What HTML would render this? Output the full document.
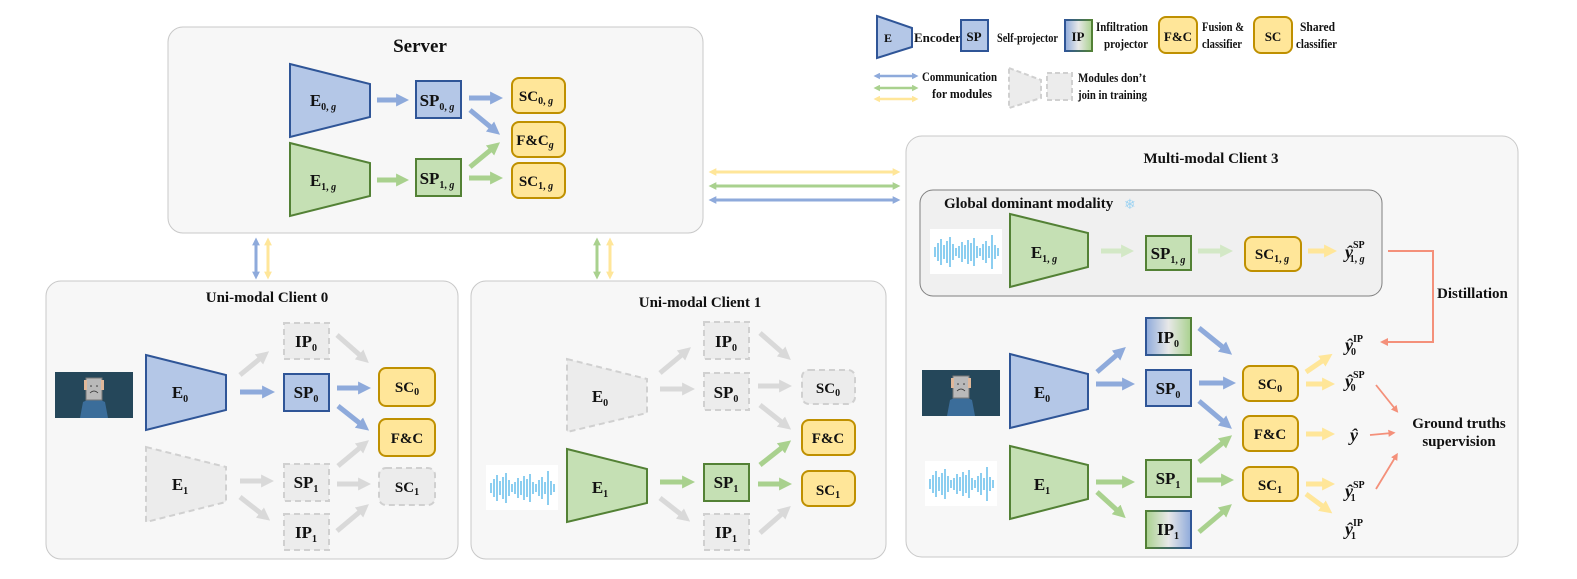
<!DOCTYPE html>
<html><head><meta charset="utf-8"><style>
html,body{margin:0;padding:0;background:#fff}
svg{display:block}
text{font-family:"Liberation Serif",serif;font-weight:bold;fill:#111}
.n{font-size:17px;text-anchor:middle}
.s{font-size:15px;text-anchor:middle}
.t{font-size:15px;text-anchor:middle}
.l{font-size:13px}
.sub{font-size:10px}
</style></head><body>
<svg width="1577" height="579" viewBox="0 0 1577 579" xmlns="http://www.w3.org/2000/svg">
<defs>
<marker id="mb" viewBox="0 0 10 10" refX="3" refY="5" markerWidth="2.6" markerHeight="2.6" orient="auto-start-reverse"><path d="M0,0L10,5L0,10z" fill="#8eaadb"/></marker>
<marker id="mg" viewBox="0 0 10 10" refX="3" refY="5" markerWidth="2.6" markerHeight="2.6" orient="auto-start-reverse"><path d="M0,0L10,5L0,10z" fill="#a9d18e"/></marker>
<marker id="mpg" viewBox="0 0 10 10" refX="3" refY="5" markerWidth="2.6" markerHeight="2.6" orient="auto-start-reverse"><path d="M0,0L10,5L0,10z" fill="#d3e8c6"/></marker>
<marker id="my" viewBox="0 0 10 10" refX="3" refY="5" markerWidth="2.6" markerHeight="2.6" orient="auto-start-reverse"><path d="M0,0L10,5L0,10z" fill="#ffe699"/></marker>
<marker id="mx" viewBox="0 0 10 10" refX="3" refY="5" markerWidth="2.6" markerHeight="2.6" orient="auto-start-reverse"><path d="M0,0L10,5L0,10z" fill="#d9d9d9"/></marker>
<marker id="mr" viewBox="0 0 10 10" refX="5" refY="5" markerWidth="4" markerHeight="4" orient="auto"><path d="M0,0L10,5L0,10z" fill="#f4907a"/></marker>
<linearGradient id="gbg" x1="0" x2="1"><stop offset="0" stop-color="#8eaadb"/><stop offset="0.5" stop-color="#e8e8e8"/><stop offset="1" stop-color="#a9d18e"/></linearGradient>
<linearGradient id="ggb" x1="0" x2="1"><stop offset="0" stop-color="#a9d18e"/><stop offset="0.5" stop-color="#e8e8e8"/><stop offset="1" stop-color="#8eaadb"/></linearGradient>
<linearGradient id="sbg" x1="0" x2="1"><stop offset="0" stop-color="#2f5597"/><stop offset="1" stop-color="#538135"/></linearGradient>
<linearGradient id="sgb" x1="0" x2="1"><stop offset="0" stop-color="#538135"/><stop offset="1" stop-color="#2f5597"/></linearGradient>
<g id="wave">
<rect x="0" y="0" width="72" height="45" fill="#fff"/>
<g stroke="#4fb3e8" stroke-width="1.3">
<path d="M5,18v10M8,14v18M11,10v26M14,16v14M17,12v22M20,8v30M23,15v16M26,19v8M29,17v12M32,13v20M35,16v14M38,11v24M41,14v18M44,9v28M47,17v12M50,19v8M53,15v16M56,12v22M59,17v12M62,6v34M65,16v14M68,19v8"/>
</g></g>
<g id="face">
<rect x="0" y="0" width="78" height="46" fill="#1f3b4d"/>
<rect x="0" y="0" width="78" height="46" fill="#2c5468" opacity="0.5"/>
<path d="M25,46 L28,30 Q39,24 50,30 L53,46z" fill="#3b6d9a"/>
<rect x="31" y="6" width="16" height="22" fill="#b9b9b9" stroke="#777" stroke-width="1"/>
<circle cx="36" cy="14" r="0.8" fill="#333"/><circle cx="42" cy="14" r="0.8" fill="#333"/>
<path d="M35,21 Q39,17 43,21" stroke="#333" fill="none" stroke-width="0.8"/>
<rect x="29" y="8" width="3" height="10" fill="#e0b89a"/><rect x="46" y="8" width="3" height="10" fill="#e0b89a"/>
</g>
</defs>

<!-- Server panel -->
<rect x="168" y="27" width="535" height="206" rx="15" fill="#f7f7f7" stroke="#c8c8c8"/>
<text x="420" y="52" style="font-size:19px;text-anchor:middle">Server</text>
<polygon points="290,64 370,84 370,117 290,137" fill="#b4c7e7" stroke="#2f5597" stroke-width="2"/>
<text x="323" y="106" class="n">E<tspan class="sub" dy="4">0, <tspan font-style="italic">g</tspan></tspan></text>
<polygon points="290,143 370,163 370,196 290,216" fill="#c5e0b4" stroke="#538135" stroke-width="2"/>
<text x="323" y="186" class="n">E<tspan class="sub" dy="4">1, <tspan font-style="italic">g</tspan></tspan></text>
<rect x="416" y="81" width="45" height="37" fill="#b4c7e7" stroke="#2f5597" stroke-width="2"/>
<text x="437" y="106" class="n">SP<tspan class="sub" dy="4">0, <tspan font-style="italic">g</tspan></tspan></text>
<rect x="416" y="159" width="45" height="37" fill="#c5e0b4" stroke="#538135" stroke-width="2"/>
<text x="437" y="184" class="n">SP<tspan class="sub" dy="4">1, <tspan font-style="italic">g</tspan></tspan></text>
<rect x="512" y="78" width="53" height="35" rx="7" fill="#ffe699" stroke="#bf9000" stroke-width="2"/>
<text x="536" y="101" class="s">SC<tspan class="sub" dy="3">0, <tspan font-style="italic">g</tspan></tspan></text>
<rect x="512" y="122" width="53" height="35" rx="7" fill="#ffe699" stroke="#bf9000" stroke-width="2"/>
<text x="535" y="145" class="s">F&amp;C<tspan class="sub" dy="3" font-style="italic">g</tspan></text>
<rect x="512" y="163" width="53" height="35" rx="7" fill="#ffe699" stroke="#bf9000" stroke-width="2"/>
<text x="536" y="186" class="s">SC<tspan class="sub" dy="3">1, <tspan font-style="italic">g</tspan></tspan></text>
<g stroke-width="5" fill="none">
<line x1="377" y1="100" x2="400" y2="100" stroke="#8eaadb" marker-end="url(#mb)"/>
<line x1="469" y1="98" x2="494" y2="98" stroke="#8eaadb" marker-end="url(#mb)"/>
<line x1="470" y1="110" x2="493" y2="129" stroke="#8eaadb" marker-end="url(#mb)"/>
<line x1="377" y1="180" x2="400" y2="180" stroke="#a9d18e" marker-end="url(#mg)"/>
<line x1="470" y1="167" x2="493" y2="148" stroke="#a9d18e" marker-end="url(#mg)"/>
<line x1="469" y1="178" x2="494" y2="178" stroke="#a9d18e" marker-end="url(#mg)"/>
</g>

<!-- communication arrows -->
<g stroke-width="3">
<line x1="256" y1="243" x2="256" y2="274" stroke="#8eaadb" marker-start="url(#mb)" marker-end="url(#mb)"/>
<line x1="268" y1="243" x2="268" y2="274" stroke="#ffe699" marker-start="url(#my)" marker-end="url(#my)"/>
<line x1="597" y1="243" x2="597" y2="274" stroke="#a9d18e" marker-start="url(#mg)" marker-end="url(#mg)"/>
<line x1="610" y1="243" x2="610" y2="274" stroke="#ffe699" marker-start="url(#my)" marker-end="url(#my)"/>
<line x1="714" y1="172" x2="895" y2="172" stroke="#ffe699" marker-start="url(#my)" marker-end="url(#my)"/>
<line x1="714" y1="186" x2="895" y2="186" stroke="#a9d18e" marker-start="url(#mg)" marker-end="url(#mg)"/>
<line x1="714" y1="200" x2="895" y2="200" stroke="#8eaadb" marker-start="url(#mb)" marker-end="url(#mb)"/>
</g>

<!-- Legend -->
<polygon points="877,16 912,28 912,47 877,58" fill="#b4c7e7" stroke="#2f5597" stroke-width="2"/>
<text x="888" y="42" style="font-size:12px;text-anchor:middle">E</text>
<text x="914" y="42" class="l">Encoder</text>
<rect x="961" y="20" width="27" height="31" fill="#b4c7e7" stroke="#2f5597" stroke-width="2"/>
<text x="974" y="41" style="font-size:13px;text-anchor:middle">SP</text>
<text x="997" y="42" class="l" textLength="61" lengthAdjust="spacingAndGlyphs">Self-projector</text>
<rect x="1065" y="20" width="27" height="31" fill="url(#gbg)" stroke="url(#sbg)" stroke-width="2"/>
<text x="1078" y="41" style="font-size:13px;text-anchor:middle">IP</text>
<text x="1096" y="31" class="l" textLength="52" lengthAdjust="spacingAndGlyphs">Infiltration</text>
<text x="1104" y="48" class="l" textLength="44" lengthAdjust="spacingAndGlyphs">projector</text>
<rect x="1159" y="17" width="38" height="36" rx="7" fill="#ffe699" stroke="#bf9000" stroke-width="2"/>
<text x="1178" y="41" style="font-size:13px;text-anchor:middle">F&amp;C</text>
<text x="1202" y="31" class="l" textLength="42" lengthAdjust="spacingAndGlyphs">Fusion &amp;</text>
<text x="1202" y="48" class="l" textLength="40" lengthAdjust="spacingAndGlyphs">classifier</text>
<rect x="1254" y="17" width="38" height="36" rx="7" fill="#ffe699" stroke="#bf9000" stroke-width="2"/>
<text x="1273" y="41" style="font-size:13px;text-anchor:middle">SC</text>
<text x="1300" y="31" class="l" textLength="35" lengthAdjust="spacingAndGlyphs">Shared</text>
<text x="1296" y="48" class="l" textLength="41" lengthAdjust="spacingAndGlyphs">classifier</text>
<g stroke-width="2.5">
<line x1="878" y1="76" x2="914" y2="76" stroke="#8eaadb" marker-start="url(#mb)" marker-end="url(#mb)"/>
<line x1="878" y1="88" x2="914" y2="88" stroke="#a9d18e" marker-start="url(#mg)" marker-end="url(#mg)"/>
<line x1="878" y1="99" x2="914" y2="99" stroke="#ffe699" marker-start="url(#my)" marker-end="url(#my)"/>
</g>
<text x="922" y="81" class="l" textLength="75" lengthAdjust="spacingAndGlyphs">Communication</text>
<text x="932" y="98" class="l" textLength="60" lengthAdjust="spacingAndGlyphs">for modules</text>
<polygon points="1009,68 1041,80 1041,98 1009,108" fill="#ececec" stroke="#d0d0d0" stroke-width="2" stroke-dasharray="5,3"/>
<rect x="1047" y="73" width="25" height="27" fill="#ececec" stroke="#d0d0d0" stroke-width="2" stroke-dasharray="5,3"/>
<text x="1078" y="82" class="l" textLength="68" lengthAdjust="spacingAndGlyphs">Modules don’t</text>
<text x="1078" y="99" class="l" textLength="69" lengthAdjust="spacingAndGlyphs">join in training</text>

<!-- Client 0 -->
<rect x="46" y="281" width="412" height="278" rx="15" fill="#f7f7f7" stroke="#c8c8c8"/>
<text x="267" y="302" class="t">Uni-modal Client 0</text>
<use href="#face" x="55" y="372"/>
<polygon points="146,355 226,375 226,410 146,430" fill="#b4c7e7" stroke="#2f5597" stroke-width="2"/>
<text x="180" y="398" class="n">E<tspan class="sub" dy="4">0</tspan></text>
<polygon points="146,447 226,467 226,502 146,522" fill="#ececec" stroke="#d0d0d0" stroke-width="2" stroke-dasharray="6,4"/>
<text x="180" y="490" class="n">E<tspan class="sub" dy="4">1</tspan></text>
<g stroke="#d0d0d0" stroke-width="2" stroke-dasharray="6,4" fill="#ececec">
<rect x="284" y="323" width="45" height="36"/>
<rect x="284" y="464" width="45" height="37"/>
<rect x="284" y="514" width="45" height="36"/>
<rect x="379" y="468" width="56" height="37" rx="7"/>
</g>
<rect x="284" y="374" width="45" height="37" fill="#b4c7e7" stroke="#2f5597" stroke-width="2"/>
<rect x="379" y="368" width="56" height="38" rx="7" fill="#ffe699" stroke="#bf9000" stroke-width="2"/>
<rect x="379" y="419" width="56" height="37" rx="7" fill="#ffe699" stroke="#bf9000" stroke-width="2"/>
<text x="306" y="347" class="n">IP<tspan class="sub" dy="4">0</tspan></text>
<text x="306" y="398" class="n">SP<tspan class="sub" dy="4">0</tspan></text>
<text x="306" y="488" class="n">SP<tspan class="sub" dy="4">1</tspan></text>
<text x="306" y="538" class="n">IP<tspan class="sub" dy="4">1</tspan></text>
<text x="407" y="392" class="s">SC<tspan class="sub" dy="3">0</tspan></text>
<text x="407" y="443" class="s">F&amp;C</text>
<text x="407" y="492" class="s">SC<tspan class="sub" dy="3">1</tspan></text>
<g stroke-width="5">
<line x1="240" y1="375" x2="262" y2="357" stroke="#d9d9d9" marker-end="url(#mx)"/>
<line x1="240" y1="392" x2="266" y2="392" stroke="#8eaadb" marker-end="url(#mb)"/>
<line x1="337" y1="335" x2="362" y2="357" stroke="#d9d9d9" marker-end="url(#mx)"/>
<line x1="337" y1="388" x2="362" y2="388" stroke="#8eaadb" marker-end="url(#mb)"/>
<line x1="338" y1="406" x2="362" y2="425" stroke="#8eaadb" marker-end="url(#mb)"/>
<line x1="240" y1="481" x2="265" y2="481" stroke="#d9d9d9" marker-end="url(#mx)"/>
<line x1="240" y1="497" x2="263" y2="515" stroke="#d9d9d9" marker-end="url(#mx)"/>
<line x1="338" y1="466" x2="362" y2="446" stroke="#d9d9d9" marker-end="url(#mx)"/>
<line x1="337" y1="484" x2="362" y2="484" stroke="#d9d9d9" marker-end="url(#mx)"/>
<line x1="337" y1="531" x2="362" y2="510" stroke="#d9d9d9" marker-end="url(#mx)"/>
</g>

<!-- Client 1 -->
<rect x="471" y="281" width="415" height="278" rx="15" fill="#f7f7f7" stroke="#c8c8c8"/>
<text x="700" y="307" class="t">Uni-modal Client 1</text>
<use href="#wave" x="486" y="465"/>
<polygon points="567,359 647,379 647,413 567,432" fill="#ececec" stroke="#d0d0d0" stroke-width="2" stroke-dasharray="6,4"/>
<text x="600" y="402" class="n">E<tspan class="sub" dy="4">0</tspan></text>
<polygon points="567,449 647,469 647,503 567,522" fill="#c5e0b4" stroke="#538135" stroke-width="2"/>
<text x="600" y="493" class="n">E<tspan class="sub" dy="4">1</tspan></text>
<g stroke="#d0d0d0" stroke-width="2" stroke-dasharray="6,4" fill="#ececec">
<rect x="704" y="322" width="45" height="37"/>
<rect x="704" y="373" width="45" height="37"/>
<rect x="704" y="514" width="45" height="36"/>
<rect x="802" y="370" width="53" height="34" rx="7"/>
</g>
<rect x="704" y="464" width="45" height="37" fill="#c5e0b4" stroke="#538135" stroke-width="2"/>
<rect x="802" y="420" width="53" height="35" rx="7" fill="#ffe699" stroke="#bf9000" stroke-width="2"/>
<rect x="802" y="471" width="53" height="35" rx="7" fill="#ffe699" stroke="#bf9000" stroke-width="2"/>
<text x="726" y="347" class="n">IP<tspan class="sub" dy="4">0</tspan></text>
<text x="726" y="398" class="n">SP<tspan class="sub" dy="4">0</tspan></text>
<text x="726" y="488" class="n">SP<tspan class="sub" dy="4">1</tspan></text>
<text x="726" y="538" class="n">IP<tspan class="sub" dy="4">1</tspan></text>
<text x="828" y="393" class="s">SC<tspan class="sub" dy="3">0</tspan></text>
<text x="828" y="443" class="s">F&amp;C</text>
<text x="828" y="495" class="s">SC<tspan class="sub" dy="3">1</tspan></text>
<g stroke-width="5">
<line x1="660" y1="373" x2="684" y2="353" stroke="#d9d9d9" marker-end="url(#mx)"/>
<line x1="660" y1="389" x2="686" y2="389" stroke="#d9d9d9" marker-end="url(#mx)"/>
<line x1="760" y1="333" x2="784" y2="354" stroke="#d9d9d9" marker-end="url(#mx)"/>
<line x1="758" y1="386" x2="783" y2="386" stroke="#d9d9d9" marker-end="url(#mx)"/>
<line x1="760" y1="405" x2="784" y2="424" stroke="#d9d9d9" marker-end="url(#mx)"/>
<line x1="660" y1="482" x2="686" y2="482" stroke="#a9d18e" marker-end="url(#mg)"/>
<line x1="660" y1="498" x2="683" y2="516" stroke="#d9d9d9" marker-end="url(#mx)"/>
<line x1="760" y1="465" x2="784" y2="446" stroke="#a9d18e" marker-end="url(#mg)"/>
<line x1="758" y1="484" x2="783" y2="484" stroke="#a9d18e" marker-end="url(#mg)"/>
<line x1="760" y1="533" x2="784" y2="512" stroke="#d9d9d9" marker-end="url(#mx)"/>
</g>

<!-- Client 3 -->
<rect x="906" y="136" width="612" height="421" rx="16" fill="#f7f7f7" stroke="#c8c8c8"/>
<text x="1211" y="163" class="t">Multi-modal Client 3</text>
<rect x="920" y="190" width="462" height="106" rx="13" fill="#f0f0f0" stroke="#7f7f7f"/>
<text x="944" y="208" style="font-size:15px">Global dominant modality</text>
<text x="1124" y="209" style="font-size:14px;fill:#9fd4f2;font-weight:normal;font-family:'DejaVu Sans',sans-serif">❄</text>
<use href="#wave" x="930" y="229"/>
<polygon points="1010,214 1088,233 1088,267 1010,287" fill="#c5e0b4" stroke="#538135" stroke-width="2"/>
<text x="1044" y="258" class="n">E<tspan class="sub" dy="4">1, <tspan font-style="italic">g</tspan></tspan></text>
<rect x="1146" y="236" width="45" height="34" fill="#c5e0b4" stroke="#538135" stroke-width="2"/>
<text x="1168" y="259" class="n">SP<tspan class="sub" dy="4">1, <tspan font-style="italic">g</tspan></tspan></text>
<rect x="1245" y="237" width="56" height="34" rx="7" fill="#ffe699" stroke="#bf9000" stroke-width="2"/>
<text x="1272" y="259" class="s">SC<tspan class="sub" dy="3">1, <tspan font-style="italic">g</tspan></tspan></text>
<g stroke-width="5">
<line x1="1101" y1="251" x2="1125" y2="251" stroke="#d3e8c6" marker-end="url(#mpg)"/>
<line x1="1198" y1="251" x2="1224" y2="251" stroke="#d3e8c6" marker-end="url(#mpg)"/>
<line x1="1308" y1="251" x2="1328" y2="251" stroke="#ffe699" marker-end="url(#my)"/>
</g>
<text x="1345" y="258" style="font-size:18px"><tspan font-style="italic">ŷ</tspan><tspan class="sub" dy="-10">SP</tspan><tspan class="sub" dx="-15" dy="14">1, <tspan font-style="italic">g</tspan></tspan></text>
<polyline points="1388,251 1433,251 1433,342 1384,342" fill="none" stroke="#f4907a" stroke-width="2" marker-end="url(#mr)"/>
<text x="1437" y="298" style="font-size:15px">Distillation</text>

<use href="#face" x="922" y="370"/>
<use href="#wave" x="925" y="461"/>
<polygon points="1010,354 1088,374 1088,409 1010,428" fill="#b4c7e7" stroke="#2f5597" stroke-width="2"/>
<text x="1042" y="398" class="n">E<tspan class="sub" dy="4">0</tspan></text>
<polygon points="1010,446 1088,465 1088,499 1010,519" fill="#c5e0b4" stroke="#538135" stroke-width="2"/>
<text x="1042" y="490" class="n">E<tspan class="sub" dy="4">1</tspan></text>
<rect x="1146" y="318" width="45" height="37" fill="url(#gbg)" stroke="url(#sbg)" stroke-width="2"/>
<rect x="1146" y="370" width="45" height="36" fill="#b4c7e7" stroke="#2f5597" stroke-width="2"/>
<rect x="1146" y="460" width="45" height="37" fill="#c5e0b4" stroke="#538135" stroke-width="2"/>
<rect x="1146" y="511" width="45" height="37" fill="url(#ggb)" stroke="url(#sgb)" stroke-width="2"/>
<text x="1168" y="343" class="n">IP<tspan class="sub" dy="4">0</tspan></text>
<text x="1168" y="394" class="n">SP<tspan class="sub" dy="4">0</tspan></text>
<text x="1168" y="484" class="n">SP<tspan class="sub" dy="4">1</tspan></text>
<text x="1168" y="535" class="n">IP<tspan class="sub" dy="4">1</tspan></text>
<rect x="1243" y="366" width="55" height="35" rx="7" fill="#ffe699" stroke="#bf9000" stroke-width="2"/>
<rect x="1243" y="416" width="55" height="35" rx="7" fill="#ffe699" stroke="#bf9000" stroke-width="2"/>
<rect x="1243" y="467" width="55" height="34" rx="7" fill="#ffe699" stroke="#bf9000" stroke-width="2"/>
<text x="1270" y="389" class="s">SC<tspan class="sub" dy="3">0</tspan></text>
<text x="1270" y="439" class="s">F&amp;C</text>
<text x="1270" y="490" class="s">SC<tspan class="sub" dy="3">1</tspan></text>
<g stroke-width="5">
<line x1="1097" y1="372" x2="1119" y2="353" stroke="#8eaadb" marker-end="url(#mb)"/>
<line x1="1096" y1="384" x2="1126" y2="384" stroke="#8eaadb" marker-end="url(#mb)"/>
<line x1="1199" y1="328" x2="1225" y2="349" stroke="#8eaadb" marker-end="url(#mb)"/>
<line x1="1199" y1="383" x2="1227" y2="383" stroke="#8eaadb" marker-end="url(#mb)"/>
<line x1="1199" y1="401" x2="1225" y2="423" stroke="#8eaadb" marker-end="url(#mb)"/>
<line x1="1096" y1="482" x2="1126" y2="482" stroke="#a9d18e" marker-end="url(#mg)"/>
<line x1="1097" y1="492" x2="1119" y2="512" stroke="#a9d18e" marker-end="url(#mg)"/>
<line x1="1199" y1="462" x2="1225" y2="441" stroke="#a9d18e" marker-end="url(#mg)"/>
<line x1="1197" y1="480" x2="1225" y2="480" stroke="#a9d18e" marker-end="url(#mg)"/>
<line x1="1199" y1="532" x2="1225" y2="510" stroke="#a9d18e" marker-end="url(#mg)"/>
<line x1="1306" y1="372" x2="1325" y2="359" stroke="#ffe699" marker-end="url(#my)"/>
<line x1="1306" y1="384" x2="1326" y2="384" stroke="#ffe699" marker-end="url(#my)"/>
<line x1="1306" y1="434" x2="1326" y2="434" stroke="#ffe699" marker-end="url(#my)"/>
<line x1="1306" y1="484" x2="1326" y2="484" stroke="#ffe699" marker-end="url(#my)"/>
<line x1="1306" y1="494" x2="1325" y2="508" stroke="#ffe699" marker-end="url(#my)"/>
</g>
<g style="font-size:18px">
<text x="1345" y="351"><tspan font-style="italic">ŷ</tspan><tspan class="sub" dy="-9">IP</tspan><tspan class="sub" dx="-12" dy="13">0</tspan></text>
<text x="1345" y="387"><tspan font-style="italic">ŷ</tspan><tspan class="sub" dy="-9">SP</tspan><tspan class="sub" dx="-14" dy="13">0</tspan></text>
<text x="1350" y="441"><tspan font-style="italic">ŷ</tspan></text>
<text x="1345" y="497"><tspan font-style="italic">ŷ</tspan><tspan class="sub" dy="-9">SP</tspan><tspan class="sub" dx="-14" dy="13">1</tspan></text>
<text x="1345" y="535"><tspan font-style="italic">ŷ</tspan><tspan class="sub" dy="-9">IP</tspan><tspan class="sub" dx="-12" dy="13">1</tspan></text>
</g>
<g stroke="#f4907a" stroke-width="1.8" fill="none">
<line x1="1376" y1="385" x2="1396" y2="410" marker-end="url(#mr)"/>
<line x1="1370" y1="435" x2="1392" y2="433" marker-end="url(#mr)"/>
<line x1="1376" y1="489" x2="1396" y2="456" marker-end="url(#mr)"/>
</g>
<text x="1459" y="428" style="font-size:15px;text-anchor:middle">Ground truths</text>
<text x="1459" y="446" style="font-size:15px;text-anchor:middle">supervision</text>
</svg>
</body></html>
